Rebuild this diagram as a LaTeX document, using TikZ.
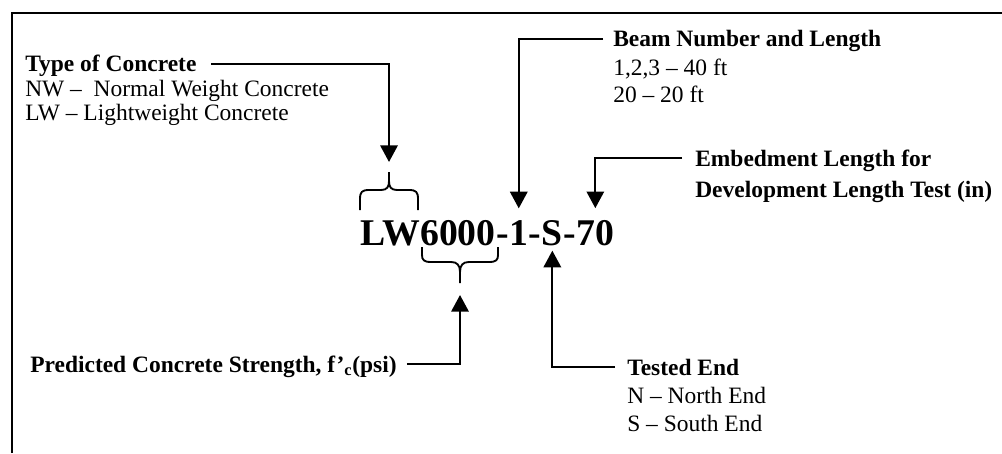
\documentclass[tikz,border=0pt]{standalone}
\usepackage{fontspec}
\setmainfont{Liberation Serif}
\usepackage{tikz}
\usetikzlibrary{arrows.meta, positioning, calc}
\newcommand{\labelFont}{\fontsize{17.6}{24}\selectfont}
\newcommand{\codeFont}{\fontsize{28.3}{30}\selectfont\bfseries}

\begin{document}
\begin{tikzpicture}[
    x=0.75pt, y=-0.75pt,
    >={Triangle[width=13pt,length=12.5pt]},
    labelTitle/.style={
        anchor=base west,
        inner sep=0pt,
        text depth=0pt,
        font=\labelFont\bfseries
    },
    labelItem/.style={
        anchor=base west,
        inner sep=0pt,
        font=\labelFont
    },
    codePart/.style={
        anchor=base west,
        inner sep=0pt,
        font=\codeFont
    },
    arrowLine/.style={
        ->,
        line width=1.7pt
    },
    braceLine/.style={
        line width=1.4pt
    },
    frameLine/.style={
        line width=2pt
    }
]
\useasboundingbox (0,0) rectangle (1002,453);

% Frame
\draw[frameLine] (12,453) -- (12,13) -- (1002,13);

% Designation code
\node[codePart] (codeLW) at (360,245) {LW};
\node[codePart] (codeFc) at (codeLW.base east) {6000};
\node[codePart] (codeDashA) at (codeFc.base east) {-};
\node[codePart] (codeBeam) at (codeDashA.base east) {1};
\node[codePart] (codeDashB) at (codeBeam.base east) {-};
\node[codePart] (codeEnd) at (codeDashB.base east) {S};
\node[codePart] (codeDashC) at (codeEnd.base east) {-};
\node[codePart] (codeEmb) at (codeDashC.base east) {70};

% Braces
\draw[braceLine] (360,210) -- (360,199) .. controls (360,192) and (362,190) .. (369,190)
    -- (381,190) .. controls (387,190) and (389,187) .. (389,181) -- (389,172);
\draw[braceLine] (389,181) .. controls (389,187) and (391,190) .. (397,190)
    -- (409,190) .. controls (416,190) and (418,192) .. (418,199) -- (418,210);
\coordinate (lwTip) at (389,172);

\draw[braceLine] (422,247) -- (422,255) .. controls (422,260) and (424,262) .. (431,262)
    -- (451,262) .. controls (457,262) and (460,265) .. (460,272) -- (460,283);
\draw[braceLine] (460,272) .. controls (460,265) and (463,262) .. (469,262)
    -- (489,262) .. controls (496,262) and (498,260) .. (498,255) -- (498,247);
\coordinate (fcTip) at (460,283);

% Type of concrete
\node[labelTitle] (typeTitle) at (25,72) {Type of Concrete};
\node[labelItem] (typeNW) at ($(typeTitle.base west)+(0,24)$) {NW --\ \ Normal Weight Concrete};
\node[labelItem] (typeLW) at ($(typeNW.base west)+(0,24)$) {LW -- Lightweight Concrete};

% Beam number
\node[labelTitle] (beamTitle) at (613,47) {Beam Number and Length};
\node[labelItem] (beamLong) at ($(beamTitle.base west)+(0,28)$) {1,2,3 -- 40 ft};
\node[labelItem] (beamShort) at ($(beamLong.base west)+(0,28)$) {20 -- 20 ft};

% Embedment length
\node[labelTitle] (embTitle) at (695,166) {Embedment Length for};
\node[labelTitle] (embTitleB) at ($(embTitle.base west)+(0,31)$) {Development Length Test (in)};

% Tested end
\node[labelTitle] (testedTitle) at (627,375) {Tested End};
\node[labelItem] (testedN) at ($(testedTitle.base west)+(0,28)$) {N -- North End};
\node[labelItem] (testedS) at ($(testedN.base west)+(0,28)$) {S -- South End};

% Concrete strength
\node[labelTitle] (fcTitle) at (30,372) {Predicted Concrete Strength, f\textquoteright\textsubscript{c}(psi)};

% Connecting arrows
\draw[arrowLine, shorten <=11pt, shorten >=7.5pt] (typeTitle.east) -| (lwTip);
\draw[arrowLine, shorten <=7.5pt, shorten >=8.6pt] (beamTitle.west) -| (codeBeam.north);
\draw[arrowLine, shorten <=9.75pt, shorten >=8.6pt] (embTitle.west) -| (codeEmb.north);
\draw[arrowLine, shorten <=9pt, shorten >=3.75pt] (testedTitle.west) -| (codeEnd.south);
\draw[arrowLine, shorten <=7.5pt, shorten >=9pt] (fcTitle.east) -| (fcTip);

\end{tikzpicture}
\end{document}
